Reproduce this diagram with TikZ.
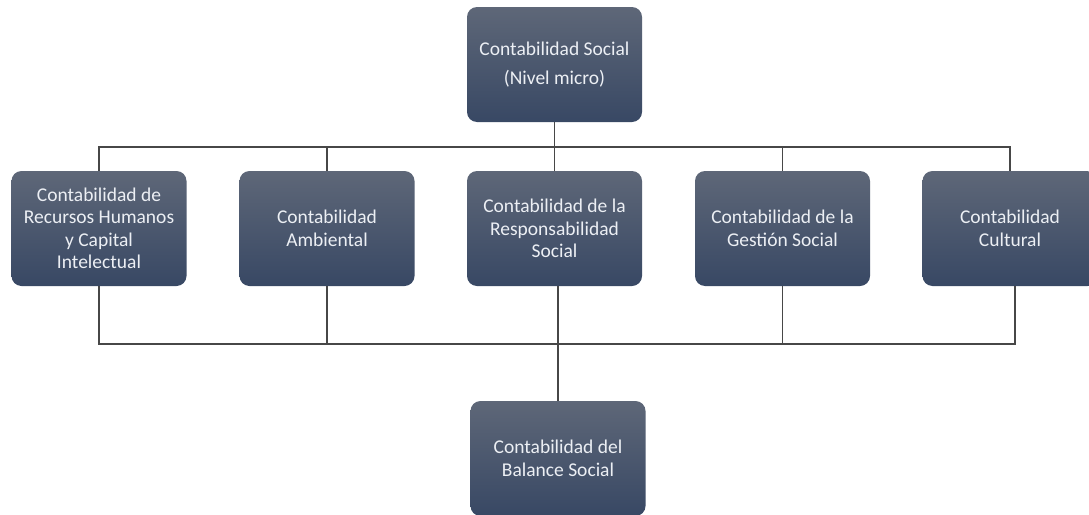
\documentclass[tikz,border=0pt]{standalone}
\usepackage{fontspec}
\setmainfont{Carlito}
\definecolor{boxtop}{RGB}{94,103,120}
\definecolor{boxbot}{RGB}{56,72,100}
\definecolor{boxtext}{RGB}{236,239,244}
\tikzset{
  unitbox/.style={rounded corners=10pt, top color=boxtop, bottom color=boxbot,
    draw=none, minimum width=175pt, minimum height=115pt, inner sep=0pt,
    align=center, text=boxtext, font=\fontsize{19.5}{22.5}\selectfont},
  link/.style={draw=black!72, line width=1.3pt}
}
\begin{document}
\begin{tikzpicture}[x=1pt,y=-1pt]
  \useasboundingbox (0,0) rectangle (1089,514);
  \clip (0,0) rectangle (1089,514);
  \fill[white] (0,0) rectangle (1089,514);

  % cabecera
  \node[unitbox] (social) at (554.5,64.5) {Contabilidad Social\\[7pt](Nivel micro)};

  % fila de ramas
  \node[unitbox] (rrhh)    at (99,228.5)   {Contabilidad de\\Recursos Humanos\\y Capital\\Intelectual};
  \node[unitbox] (ambient) at (327,228.5)  {Contabilidad\\Ambiental};
  \node[unitbox] (respons) at (554.5,228.5){Contabilidad de la\\Responsabilidad\\Social};
  \node[unitbox] (gestion) at (782.5,228.5){Contabilidad de la\\Gestión Social};
  \node[unitbox] (cultura) at (1010,228.5) {Contabilidad\\Cultural};

  % balance
  \node[unitbox] (balance) at (558,458.5)  {Contabilidad del\\Balance Social};

  \coordinate (bustop) at (554.5,147);
  \coordinate (busbot) at (558,344);

  % conectores superiores
  \draw[link] (social.south) -- (respons.north);
  \draw[link] (rrhh.north) |- (bustop) -| (cultura.north);
  \draw[link] (ambient.north) -- (ambient.north |- bustop);
  \draw[link] (gestion.north) -- (gestion.north |- bustop);

  % conectores inferiores
  \draw[link] (rrhh.south) |- (busbot) -| ([xshift=5pt]cultura.south);
  \draw[link] (ambient.south) -- (ambient.south |- busbot);
  \draw[link] (gestion.south) -- (gestion.south |- busbot);
  \draw[link] (balance.north) -- (balance.north |- respons.south);
\end{tikzpicture}
\end{document}
